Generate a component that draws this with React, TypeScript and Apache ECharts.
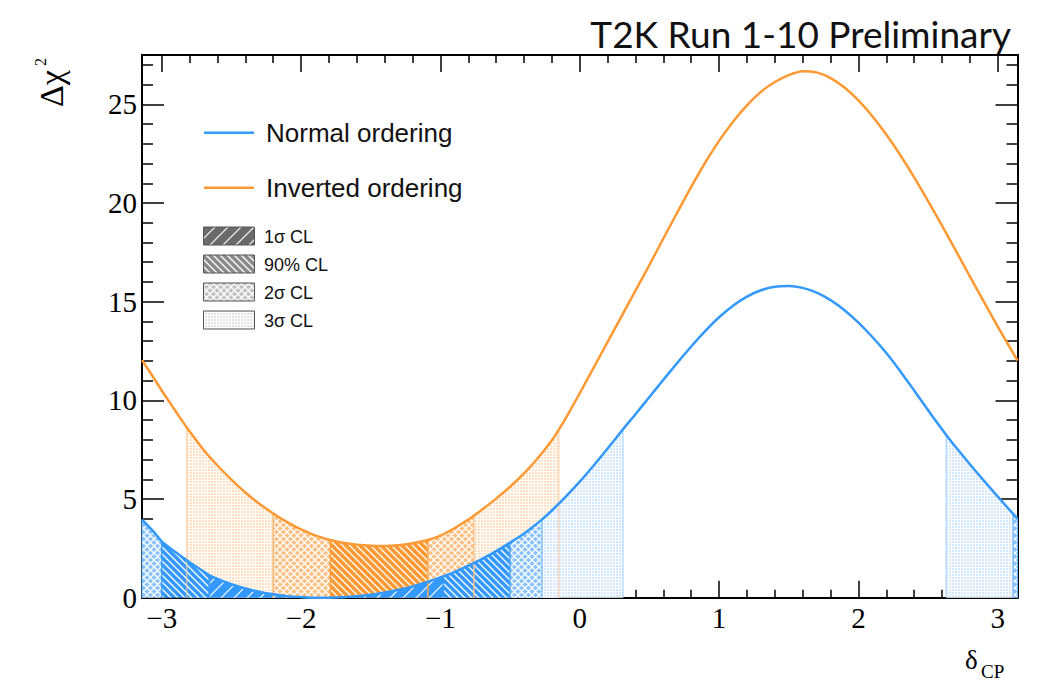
import React, { useEffect, useRef } from "react";
import * as echarts from "echarts";

// ---------- data ----------
const X_MIN = -3.1416;
const X_MAX = 3.1416;
const Y_MAX = 27.5;

// Normal ordering: delta_CP samples and delta chi^2 values
const noX = [-3.1416, -3.05, -3.0, -2.9, -2.8, -2.7, -2.66, -2.6, -2.5, -2.4, -2.3, -2.2, -2.1, -2.0, -1.9, -1.8, -1.7, -1.6, -1.5, -1.4, -1.3, -1.2, -1.1, -0.98, -0.9, -0.8, -0.7, -0.6, -0.5, -0.4, -0.27, -0.2, -0.1, 0.0, 0.1, 0.2, 0.31, 0.4, 0.5, 0.6, 0.7, 0.8, 0.9, 1.0, 1.1, 1.2, 1.3, 1.4, 1.5, 1.6, 1.7, 1.8, 1.9, 2.0, 2.1, 2.2, 2.3, 2.4, 2.5, 2.63, 2.7, 2.8, 2.9, 3.0, 3.11, 3.1416];
const noY = [3.95, 3.28, 2.85, 2.3, 1.8, 1.33, 1.15, 0.95, 0.68, 0.47, 0.3, 0.17, 0.08, 0.03, 0.0, 0.0, 0.02, 0.07, 0.15, 0.26, 0.4, 0.57, 0.78, 1.08, 1.3, 1.62, 1.97, 2.36, 2.79, 3.25, 3.97, 4.42, 5.12, 5.88, 6.7, 7.56, 8.53, 9.3, 10.17, 11.04, 11.9, 12.73, 13.51, 14.21, 14.8, 15.26, 15.58, 15.76, 15.8, 15.7, 15.46, 15.08, 14.57, 13.94, 13.21, 12.4, 11.48, 10.5, 9.5, 8.25, 7.62, 6.76, 5.93, 5.12, 4.25, 3.99];

// Inverted ordering
const ioX = [-3.1416, -3.1, -3.0, -2.9, -2.82, -2.7, -2.6, -2.5, -2.4, -2.3, -2.2, -2.1, -2.0, -1.9, -1.79, -1.7, -1.6, -1.5, -1.4, -1.3, -1.2, -1.09, -1.0, -0.9, -0.8, -0.76, -0.7, -0.6, -0.5, -0.4, -0.3, -0.2, -0.15, -0.1, 0.0, 0.1, 0.2, 0.3, 0.4, 0.5, 0.6, 0.7, 0.8, 0.9, 1.0, 1.1, 1.2, 1.3, 1.4, 1.5, 1.6, 1.7, 1.8, 1.9, 2.0, 2.1, 2.2, 2.3, 2.4, 2.5, 2.6, 2.7, 2.8, 2.9, 3.0, 3.1, 3.1416];
const ioY = [12.04, 11.6, 10.5, 9.45, 8.62, 7.5, 6.7, 5.98, 5.33, 4.76, 4.27, 3.83, 3.46, 3.16, 2.92, 2.78, 2.68, 2.63, 2.62, 2.66, 2.76, 2.92, 3.15, 3.52, 3.96, 4.16, 4.47, 5.02, 5.62, 6.3, 7.08, 7.98, 8.52, 9.1, 10.36, 11.66, 12.96, 14.26, 15.56, 16.86, 18.2, 19.52, 20.82, 22.04, 23.15, 24.12, 24.95, 25.63, 26.13, 26.48, 26.68, 26.62, 26.33, 25.85, 25.2, 24.4, 23.47, 22.43, 21.3, 20.1, 18.85, 17.57, 16.28, 15.0, 13.74, 12.52, 12.02];

// confidence-level bands: [from, to, level]
const noBands: [number, number, string][] = [
  [-3.1416, -3.0, "s2"],
  [-3.0, -2.66, "c90"],
  [-2.66, -0.98, "s1"],
  [-0.98, -0.5, "c90"],
  [-0.5, -0.27, "s2"],
  [-0.27, 0.31, "s3"],
  [2.63, 3.11, "s3"],
  [3.11, 3.1416, "s2"],
];
const ioBands: [number, number, string][] = [
  [-2.82, -2.2, "s3"],
  [-2.2, -1.79, "s2"],
  [-1.79, -1.09, "c90"],
  [-1.09, -0.76, "s2"],
  [-0.76, -0.15, "s3"],
];

const xMajor = [-3, -2, -1, 0, 1, 2, 3];
const yMajor = [0, 5, 10, 15, 20, 25];
const legendCurves = ["Normal ordering", "Inverted ordering"];
const legendLevels = ["1σ CL", "90% CL", "2σ CL", "3σ CL"];
const levelKeys = ["s1", "c90", "s2", "s3"];

// ---------- styling helpers ----------
const BLUE = "#3399ff";
const ORANGE = "#ff9933";

const tile = (s: number, body: string) =>
  "data:image/svg+xml;charset=utf-8," +
  encodeURIComponent(
    `<svg xmlns="http://www.w3.org/2000/svg" width="${s}" height="${s}">${body}</svg>`
  );
const slashBody = (bg: string, fg: string, s: number, w: number) =>
  `<rect width="${s}" height="${s}" fill="${bg}"/><path d="M-1,1 L1,-1 M0,${s} L${s},0 M${s - 1},${s + 1} L${s + 1},${s - 1}" stroke="${fg}" stroke-width="${w}"/>`;
const backBody = (bg: string, fg: string, s: number, w: number) =>
  `<rect width="${s}" height="${s}" fill="${bg}"/><path d="M-1,${s - 1} L1,${s + 1} M0,0 L${s},${s} M${s - 1},-1 L${s + 1},1" stroke="${fg}" stroke-width="${w}"/>`;
const crossBody = (bg: string, fg: string, s: number, w: number) =>
  `<rect width="${s}" height="${s}" fill="${bg}"/><path d="M-1,1 L1,-1 M0,${s} L${s},0 M${s - 1},${s + 1} L${s + 1},${s - 1} M-1,${s - 1} L1,${s + 1} M0,0 L${s},${s} M${s - 1},-1 L${s + 1},1" stroke="${fg}" stroke-width="${w}"/>`;
const gridBody = (bg: string, fg: string, s: number) =>
  `<rect width="${s}" height="${s}" fill="${bg}"/><rect width="${s}" height="1" fill="${fg}"/><rect width="1" height="${s}" fill="${fg}"/>`;

const pat = (s: number, body: string) => ({
  image: tile(s, body),
  repeat: "repeat",
  imageWidth: s,
  imageHeight: s,
});

const makePatterns = (base: string, mid: string, light: string) => ({
  s1: pat(13, slashBody(base, "#ffffff", 13, 1.2)),
  c90: pat(7, backBody(base, "#ffffff", 7, 1.3)),
  s2: pat(7, crossBody(mid, "#ffffff", 7, 1.3)),
  s3: pat(3, gridBody(light, "#ffffff", 3)),
});

const bluePat: any = makePatterns(BLUE, "#88c2ff", "#d3e8ff");
const orangePat: any = makePatterns(ORANGE, "#ffbf80", "#ffe0c2");
const greyPat: any = makePatterns("#6a6a6a", "#c2c2c2", "#e4e4e4");
greyPat.c90 = pat(7, backBody("#8a8a8a", "#ffffff", 7, 1.3));

const blueEdge: any = { s1: BLUE, c90: BLUE, s2: "#66b2ff", s3: "#99ccff" };
const orangeEdge: any = { s1: ORANGE, c90: ORANGE, s2: "#ffad5c", s3: "#ffc999" };

function bandSeries(xs: number[], ys: number[], bands: [number, number, string][], pats: any, edges: any) {
  return bands.map(([a, b, lvl]) => {
    const pts: number[][] = [[a, 0]];
    xs.forEach((x, i) => {
      if (x >= a - 1e-9 && x <= b + 1e-9) pts.push([x, ys[i]]);
    });
    pts.push([b, 0]);
    return {
      type: "line",
      xAxisIndex: 0,
      yAxisIndex: 0,
      data: pts,
      symbol: "none",
      silent: true,
      lineStyle: { color: edges[lvl], width: 1 },
      areaStyle: { color: pats[lvl], opacity: 1, origin: "start" },
    };
  });
}

const fmtX = (v: number) => (v < 0 ? "\u2212" + Math.abs(v) : String(v));

export default function App() {
  const ref = useRef<HTMLDivElement>(null);

  useEffect(() => {
    if (!ref.current) return;
    const chart = echarts.init(ref.current, null, { renderer: "svg" });

    const xMinor: number[] = [];
    for (let k = -15; k <= 15; k++) if (k % 5 !== 0) xMinor.push(k / 5);
    const yMinor: number[] = [];
    for (let k = 1; k <= 27; k++) if (k % 5 !== 0) yMinor.push(k);

    const frameLine = { color: "#000", width: 2 };
    const tickLine = { color: "#000", width: 1.5 };

    const xAx = (pos: string, ticks: number[], len: number, labels: boolean, line: boolean) => ({
      type: "value",
      min: X_MIN,
      max: X_MAX,
      position: pos,
      axisLine: { show: line, onZero: false, lineStyle: frameLine },
      axisTick: { show: true, inside: true, length: len, customValues: ticks, lineStyle: tickLine },
      axisLabel: labels
        ? {
            show: true,
            customValues: xMajor,
            formatter: fmtX,
            fontFamily: "Liberation Serif",
            fontSize: 29,
            color: "#000",
            margin: 6,
          }
        : { show: false },
      splitLine: { show: false },
    });
    const yAx = (pos: string, ticks: number[], len: number, labels: boolean, line: boolean) => ({
      type: "value",
      min: 0,
      max: Y_MAX,
      position: pos,
      axisLine: { show: line, onZero: false, lineStyle: frameLine },
      axisTick: { show: true, inside: true, length: len, customValues: ticks, lineStyle: tickLine },
      axisLabel: labels
        ? {
            show: true,
            customValues: yMajor,
            fontFamily: "Liberation Serif",
            fontSize: 29,
            color: "#000",
            margin: 5,
          }
        : { show: false },
      splitLine: { show: false },
    });

    const txt = (x: number, y: number, text: string, family: string, size: number, extra: any = {}) => ({
      type: "text",
      x,
      y,
      ...extra,
      style: {
        text,
        fontFamily: family,
        fontSize: size,
        fill: extra.fill || "#000",
        textAlign: extra.align || "left",
        align: extra.align || "left",
        textVerticalAlign: "middle",
        verticalAlign: "middle",
      },
    });

    const legendGraphics: any[] = [];
    [BLUE, ORANGE].forEach((c, i) => {
      const y = 132.7 + i * 55;
      legendGraphics.push({
        type: "line",
        shape: { x1: 204, y1: y, x2: 254, y2: y },
        style: { stroke: c, lineWidth: 2.5 },
      });
      legendGraphics.push(txt(266, y, legendCurves[i], "Liberation Sans", 26, { fill: "#111" }));
    });
    levelKeys.forEach((k, i) => {
      const y = 227 + i * 28;
      legendGraphics.push({
        type: "rect",
        shape: { x: 203.5, y: y, width: 51, height: 18 },
        style: { fill: greyPat[k], stroke: "#555", lineWidth: 1 },
      });
      legendGraphics.push(txt(264, y + 9.5, legendLevels[i], "Liberation Sans", 18, { fill: "#111" }));
    });

    const option: any = {
      animation: false,
      backgroundColor: "#fff",
      grid: { left: 142, right: 22.5, top: 55, bottom: 91.3, containLabel: false, outerBoundsMode: "none" },
      xAxis: [
        xAx("bottom", xMajor, 17, true, true),
        xAx("bottom", xMinor, 8, false, false),
        xAx("top", xMajor, 17, false, true),
        xAx("top", xMinor, 8, false, false),
      ],
      yAxis: [
        yAx("left", yMajor, 22, true, true),
        yAx("left", yMinor, 11, false, false),
        yAx("right", yMajor, 22, false, true),
        yAx("right", yMinor, 11, false, false),
      ],
      series: [
        ...bandSeries(ioX, ioY, ioBands, orangePat, orangeEdge),
        ...bandSeries(noX, noY, noBands, bluePat, blueEdge),
        {
          type: "line",
          name: legendCurves[1],
          xAxisIndex: 0,
          yAxisIndex: 0,
          data: ioX.map((x, i) => [x, ioY[i]]),
          symbol: "none",
          silent: true,
          smooth: 0.3,
          lineStyle: { color: ORANGE, width: 2.5 },
        },
        {
          type: "line",
          name: legendCurves[0],
          xAxisIndex: 0,
          yAxisIndex: 0,
          data: noX.map((x, i) => [x, noY[i]]),
          symbol: "none",
          silent: true,
          smooth: 0.3,
          lineStyle: { color: BLUE, width: 2.5 },
        },
      ],
      graphic: [
        txt(1011, 33, "T2K Run 1-10 Preliminary", "Lato", 37, { align: "right", fill: "#111" }),
        txt(51, 107, "Δχ", "Liberation Serif", 34, { rotation: Math.PI / 2 }),
        txt(40, 66, "2", "Liberation Serif", 16, { rotation: Math.PI / 2 }),
        txt(965, 660, "δ", "Liberation Serif", 27),
        txt(981, 671, "CP", "Liberation Serif", 19),
        ...legendGraphics,
      ],
    };

    chart.setOption(option);
    return () => chart.dispose();
  }, []);

  return (
    <div
      ref={ref}
      style={{ position: "fixed", left: 0, top: 0, width: 1040, height: 689, background: "#fff" }}
    />
  );
}
